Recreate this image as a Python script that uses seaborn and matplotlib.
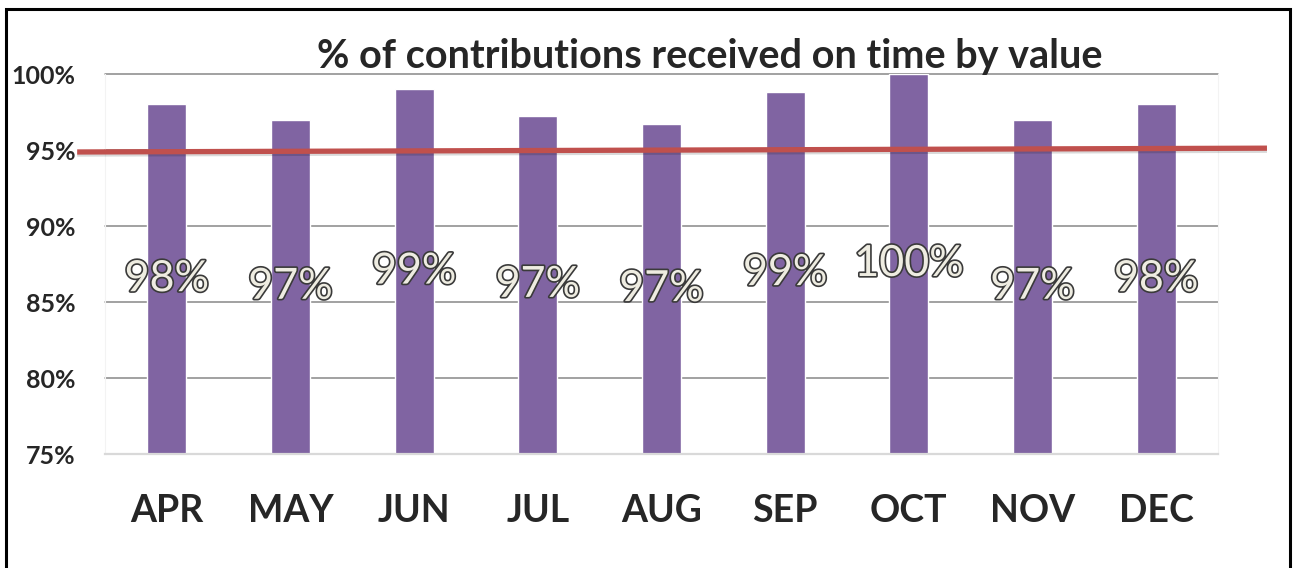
import numpy as np
import pandas as pd
import matplotlib
matplotlib.use("Agg")
import matplotlib.pyplot as plt
import matplotlib.patheffects as pe
import matplotlib.transforms as mtransforms
from matplotlib.patches import Rectangle
import seaborn as sns

months = ["APR", "MAY", "JUN", "JUL", "AUG", "SEP", "OCT", "NOV", "DEC"]
on_time = [98.0, 97.0, 99.0, 97.25, 96.7, 98.8, 100.0, 97.0, 98.0]
labels = ["98%", "97%", "99%", "97%", "97%", "99%", "100%", "97%", "98%"]
target = [94.87, 95.12]  # red target line, drawn slightly sloped in the original
yticks = [75, 80, 85, 90, 95, 100]

sns.set_style("white")
plt.rcParams["font.family"] = ["Lato", "DejaVu Sans"]

df = pd.DataFrame({"month": months, "pct": on_time})

fig = plt.figure(figsize=(12.97, 5.68), dpi=100)
ax = fig.add_axes([105 / 1297, 1 - 454 / 568, 1113 / 1297, 380 / 568])

sns.barplot(data=df, x="month", y="pct", color="#8064A2", saturation=1,
            width=0.315, ax=ax, zorder=2)

ax.set_ylim(75, 100)
ax.set_xlim(-0.5, len(months) - 0.5)
ax.set_yticks(yticks)
ax.set_yticklabels([f"{t}%" for t in yticks], fontsize=18, fontweight="bold")
ax.set_xlabel("")
ax.set_ylabel("")
ax.tick_params(axis="y", length=0, pad=21)
ax.tick_params(axis="x", which="major", length=0, pad=29, labelsize=27)
for t in ax.get_xticklabels():
    t.set_fontweight("bold")

# excel style category separators under the axis
ax.set_xticks(np.arange(len(months) + 1) - 0.5, minor=True)
ax.tick_params(axis="x", which="minor", length=9.5, width=1.2, color="#d9d9d9",
               direction="out")

ax.set_axisbelow(True)
ax.yaxis.grid(True, color="#878787", linewidth=1.1)
for gl in ax.get_ygridlines():
    gl.set_clip_on(False)
ax.spines["top"].set_visible(False)
ax.spines["bottom"].set_color("#d9d9d9")
ax.spines["bottom"].set_linewidth(1.6)
ax.spines["bottom"].set_zorder(3)
for s in ["left", "right"]:
    ax.spines[s].set_color("#f3f3f3")

# target line
trans = mtransforms.blended_transform_factory(ax.transAxes, ax.transData)
ax.plot([-0.025, 1.044], target, color="#C0504D", linewidth=3.8,
        transform=trans, clip_on=False, zorder=4, solid_capstyle="butt",
        path_effects=[pe.SimpleLineShadow(offset=(0, -1.5), alpha=0.15),
                      pe.Normal()])

# value labels in the middle of each bar
for i, (v, lab) in enumerate(zip(on_time, labels)):
    ax.text(i, (75 + v) / 2, lab, ha="center", va="center", fontsize=31,
            color="#EEECE1", zorder=5,
            path_effects=[pe.Stroke(linewidth=2.4, foreground="#3a3a3a"),
                          pe.Normal()])

fig.text(710 / 1297, 1 - 68 / 568, "% of contributions received on time by value",
         ha="center", va="baseline", fontsize=28.5, fontweight="bold")

fig.patches.append(Rectangle((6 / 1297, -0.05), 1284 / 1297, 1.05 - 9 / 568,
                             transform=fig.transFigure, fill=False,
                             edgecolor="black", linewidth=2.2))

fig.savefig("out.png", dpi=100)
